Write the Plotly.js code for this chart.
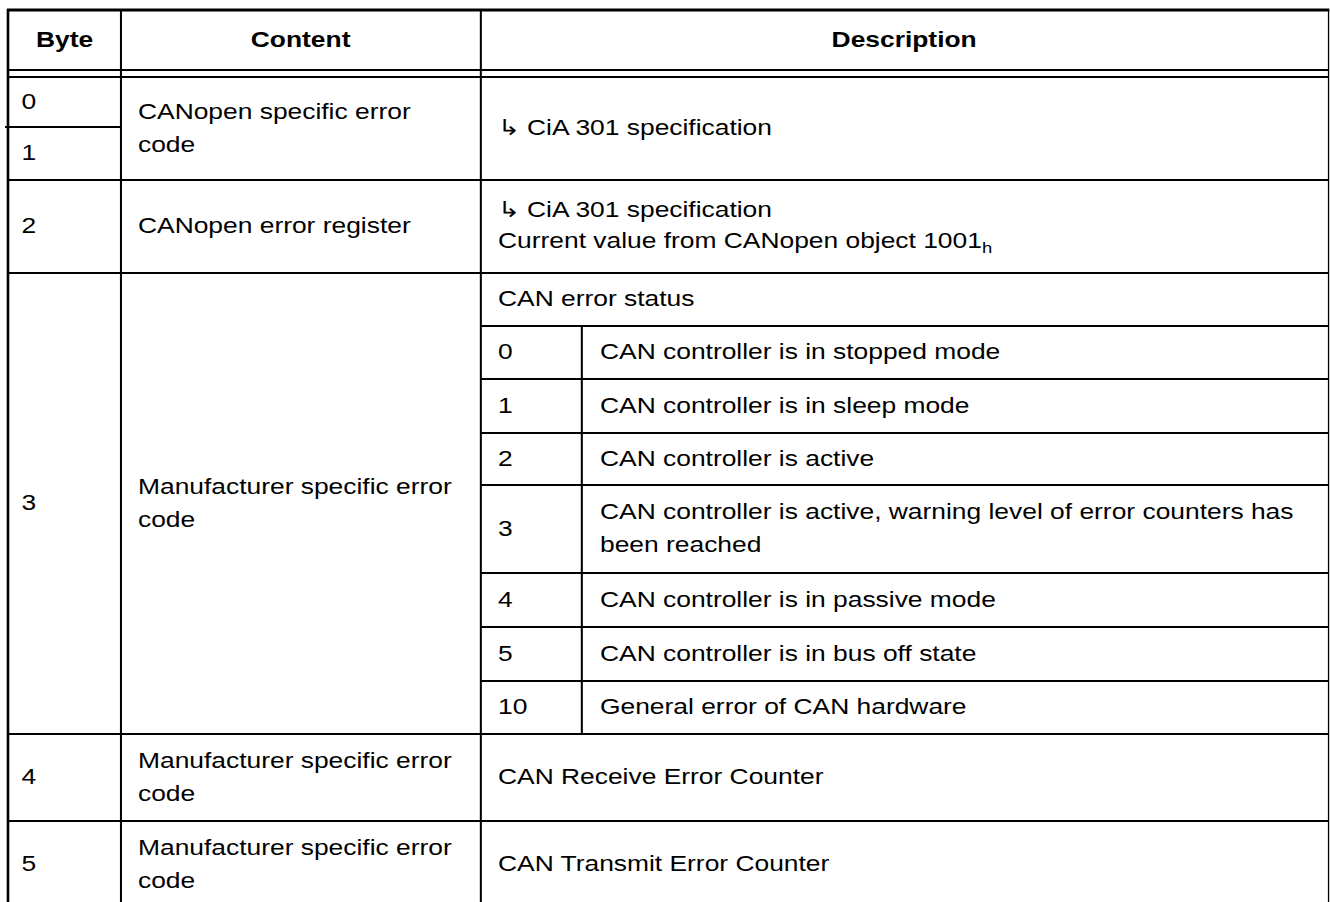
<!DOCTYPE html>
<html><head><meta charset="utf-8">
<script src="https://cdn.plot.ly/plotly-3.0.1.min.js"></script>
<style>
html,body{margin:0;padding:0;background:#fff;overflow:hidden;}
#wrap{width:1330px;height:902px;overflow:hidden;}
#chart{width:1108.3333px;height:902px;transform:scaleX(1.2);transform-origin:0 0;}
</style></head><body><div id="wrap"><div id="chart"></div></div>
<script>
// ---------- data ----------
const headers = ["Byte", "Content", "Description"];
const byteLabels = ["0", "1", "2", "3", "4", "5"];
const contentLines = [
  ["CANopen specific error", "code"],
  ["CANopen error register"],
  ["Manufacturer specific error", "code"],
  ["Manufacturer specific error", "code"],
  ["Manufacturer specific error", "code"]
];
const descLines = [
  ["\u21b3 CiA 301 specification"],
  ["\u21b3 CiA 301 specification", "Current value from CANopen object 1001<sub>h</sub>"],
  null,
  ["CAN Receive Error Counter"],
  ["CAN Transmit Error Counter"]
];
const statusTitle = "CAN error status";
const statusCodes = ["0", "1", "2", "3", "4", "5", "10"];
const statusTexts = [
  ["CAN controller is in stopped mode"],
  ["CAN controller is in sleep mode"],
  ["CAN controller is active"],
  ["CAN controller is active, warning level of error counters has", "been reached"],
  ["CAN controller is in passive mode"],
  ["CAN controller is in bus off state"],
  ["General error of CAN hardware"]
];

// ---------- layout geometry (pixel units of the table) ----------
const COLS = [8, 121, 481, 1329];
const SUBCOL = 582;
const HEAD = [10, 70];
const HEAD2 = 77;
const byteRowY = [[77, 127], [127, 180], [180, 273], [273, 734], [734, 821], [821, 908]];
const groupY = [[77, 180], [180, 273], [273, 734], [734, 821], [821, 908]];
const statusTitleY = [273, 326];
const statusRowY = [[326, 379], [379, 433], [433, 485], [485, 573], [573, 627], [627, 681], [681, 734]];
const PAD = { byte: 19, content: 136, desc: 496, code: 496, status: 598 };
const LS = 33, FS = 22, DY = -1;
const FONT = { family: "Liberation Sans, Arial, sans-serif", size: FS, color: "#000" };

const annotations = [];
function addText(lines, x, y0, y1, anchor) {
  const cy = (y0 + y1) / 2 + DY;
  const n = lines.length;
  lines.forEach((t, i) => {
    annotations.push({
      xref: "x", yref: "y", x: x, y: cy + (i - (n - 1) / 2) * LS,
      text: t, showarrow: false, xanchor: anchor || "left", yanchor: "middle",
      font: FONT, align: "left"
    });
  });
}

// headers
headers.forEach((h, i) => addText(["<b>" + h + "</b>"], (COLS[i] + COLS[i + 1]) / 2, HEAD[0], HEAD[1], "center"));
// byte column
byteLabels.forEach((b, i) => addText([b], PAD.byte, byteRowY[i][0], byteRowY[i][1]));
// content & description
contentLines.forEach((c, i) => {
  addText(c, PAD.content, groupY[i][0], groupY[i][1]);
  if (descLines[i]) addText(descLines[i], PAD.desc, groupY[i][0], groupY[i][1]);
});
// status sub-table
addText([statusTitle], PAD.desc, statusTitleY[0], statusTitleY[1]);
statusCodes.forEach((c, i) => {
  addText([c], PAD.code, statusRowY[i][0], statusRowY[i][1]);
  addText(statusTexts[i], PAD.status, statusRowY[i][0], statusRowY[i][1]);
});

// ---------- grid lines ----------
const shapes = [];
function hline(y, x0, x1, w) { shapes.push({ type: "line", xref: "x", yref: "y", x0: x0, x1: x1, y0: y, y1: y, line: { color: "#000", width: w } }); }
function vline(x, y0, y1, w) { shapes.push({ type: "line", xref: "x", yref: "y", x0: x, x1: x, y0: y0, y1: y1, line: { color: "#000", width: w } }); }
const XR = COLS[3];
hline(HEAD[0], COLS[0] - 1, XR + 1, 3);
hline(HEAD[1], COLS[0], XR, 2);
hline(HEAD2, COLS[0], XR, 2);
hline(byteRowY[0][1], COLS[0] - 3, COLS[1], 2);
groupY.forEach(g => hline(g[1], COLS[0], XR, 2));
hline(statusTitleY[1], COLS[2], XR, 2);
statusRowY.slice(0, -1).forEach(r => hline(r[1], COLS[2], XR, 2));
vline(COLS[0], HEAD[0] - 1, 910, 2.2);
vline(COLS[1], HEAD[0], 910, 1.7);
vline(COLS[2], HEAD[0], 910, 1.7);
vline(COLS[3], HEAD[0], 910, 1.2);
vline(SUBCOL, statusTitleY[1], statusRowY[6][1], 1.7);

const layout = {
  width: 1108.3333, height: 902,
  margin: { l: 0, r: 0, t: 0, b: 0, pad: 0 },
  paper_bgcolor: "#fff", plot_bgcolor: "#fff",
  xaxis: { range: [0, 1330], visible: false, fixedrange: true, showgrid: false, zeroline: false },
  yaxis: { range: [902, 0], visible: false, fixedrange: true, showgrid: false, zeroline: false },
  showlegend: false,
  shapes: shapes,
  annotations: annotations
};
Plotly.newPlot("chart", [], layout, { staticPlot: true, displayModeBar: false });
</script></body></html>
